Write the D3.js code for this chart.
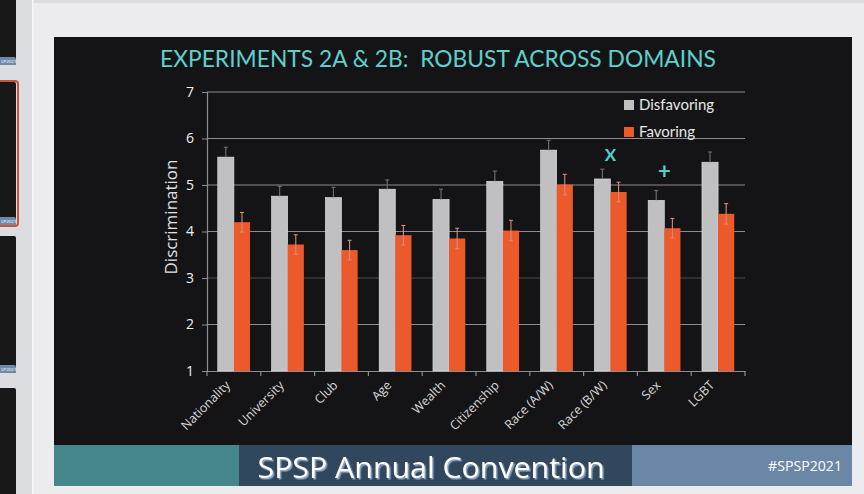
<!DOCTYPE html>
<html><head><meta charset="utf-8">
<script src="https://cdn.jsdelivr.net/npm/d3@7"></script>
<style>html,body{margin:0;padding:0;background:#ececee;overflow:hidden}</style>
</head><body>
<svg id="c" width="864" height="494"></svg>
<script>
const categories = ["Nationality","University","Club","Age","Wealth","Citizenship","Race (A/W)","Race (B/W)","Sex","LGBT"];
const disfavoring = [5.60, 4.76, 4.73, 4.91, 4.69, 5.08, 5.75, 5.13, 4.67, 5.49];
const disfavoringErr = [0.21, 0.21, 0.22, 0.20, 0.22, 0.22, 0.21, 0.21, 0.21, 0.22];
const favoring = [4.20, 3.72, 3.60, 3.92, 3.85, 4.02, 5.01, 4.85, 4.07, 4.38];
const favoringErr = [0.21, 0.21, 0.21, 0.21, 0.22, 0.22, 0.22, 0.21, 0.21, 0.22];
const seriesNames = ["Disfavoring","Favoring"];
const markers = [{cat:"Race (B/W)", sym:"X"},{cat:"Sex", sym:"+"}];
const yTicks = [1,2,3,4,5,6,7];

const svg = d3.select("#c");
const defs = svg.append("defs");
const f = defs.append("filter").attr("id","sh").attr("x","-10%").attr("y","-30%").attr("width","120%").attr("height","160%");
f.append("feDropShadow").attr("dx",1.5).attr("dy",1.5).attr("stdDeviation",0.6).attr("flood-color","#8fa9c6").attr("flood-opacity",1);

// window chrome
svg.append("rect").attr("x",0).attr("y",0).attr("width",864).attr("height",494).attr("fill","#ececee");
svg.append("rect").attr("x",0).attr("y",0).attr("width",864).attr("height",3).attr("fill","#dcdcdf");
svg.append("rect").attr("x",0).attr("y",0).attr("width",32).attr("height",494).attr("fill","#dcdde1");
svg.append("rect").attr("x",32).attr("y",0).attr("width",1.5).attr("height",494).attr("fill","#f7f7f8");
const thumbs = [[-10,65,false],[82,225,true],[236,373,false],[388,520,false]];
thumbs.forEach(t=>{
  const top = t[0], bot = t[1];
  if(t[2]) svg.append("rect").attr("x",-5).attr("y",top-1).attr("width",23).attr("height",bot-top+2).attr("rx",3).attr("fill","none").attr("stroke","#c8553a").attr("stroke-width",2);
  svg.append("rect").attr("x",-5).attr("y",top).attr("width",21).attr("height",bot-top).attr("rx",2).attr("fill","#181818");
  if (bot < 494) {
    svg.append("rect").attr("x",-5).attr("y",bot-8).attr("width",21).attr("height",8).attr("rx",2).attr("fill","#6f8aaa");
    svg.append("text").attr("x",1).attr("y",bot-2.5).attr("font-size",4.5).attr("fill","#e8eef5").attr("font-family","Lato").text("SP2021");
  }
});

// slide
svg.append("rect").attr("x",54).attr("y",37).attr("width",798).attr("height",449).attr("fill","#141416");
svg.append("text").attr("x",438).attr("y",67).attr("text-anchor","middle")
  .attr("font-family","Lato").attr("font-weight",400).attr("font-size",24).attr("fill","#5fd0cc")
  .attr("textLength",556).attr("lengthAdjust","spacingAndGlyphs")
  .text("EXPERIMENTS 2A & 2B:\u00A0 ROBUST ACROSS DOMAINS");

const x0 = d3.scaleBand().domain(categories).range([207,745]).paddingInner(0.4).paddingOuter(0.2);
const x1 = d3.scaleBand().domain(seriesNames).range([0,x0.bandwidth()]);
const y = d3.scaleLinear().domain([1,7]).range([371,92]);
const xb = d3.scaleBand().domain(categories).range([207,745]);

const g = svg.append("g");
g.selectAll(".grid").data(yTicks.slice(1)).join("line")
  .attr("x1",207).attr("x2",745).attr("y1",d=>y(d)).attr("y2",d=>y(d))
  .attr("stroke",d=>d===3?"#4a4a4e":"#8c8c92").attr("stroke-width",1.2);

// y axis
const yAxis = d3.axisLeft(y).tickValues(yTicks).tickFormat(d3.format("d")).tickSize(5).tickPadding(8);
const ya = svg.append("g").attr("transform","translate(207,0)").call(yAxis);
ya.select(".domain").attr("stroke","#8c8c92").attr("stroke-width",1.2);
ya.selectAll(".tick line").attr("stroke","#8c8c92");
ya.selectAll("text").attr("fill","#f0f0f0").attr("font-family","Open Sans").attr("font-size",14);

// x axis
const xAxis = d3.axisBottom(xb).tickSize(0).tickFormat("");
const xa = svg.append("g").attr("transform","translate(0,371)").call(xAxis);
xa.select(".domain").attr("stroke","#8c8c92").attr("stroke-width",1.2);
const bounds = categories.map(c=>xb(c)).concat([745]);
svg.append("g").selectAll("line").data(bounds).join("line")
  .attr("x1",d=>d).attr("x2",d=>d).attr("y1",371).attr("y2",376).attr("stroke","#8c8c92").attr("stroke-width",1.2);
svg.append("g").selectAll("text").data(categories).join("text")
  .attr("transform",d=>`translate(${xb(d)+xb.bandwidth()/2-3},${386}) rotate(-45)`)
  .attr("text-anchor","end").attr("font-family","Open Sans").attr("font-size",12.5).attr("fill","#d8d8d8")
  .text(d=>d);

// y label
svg.append("text").attr("transform","translate(177,217) rotate(-90)").attr("text-anchor","middle")
  .attr("font-family","Open Sans").attr("font-size",17).attr("fill","#e0e0e0").text("Discrimination");

// bars
const colors = {Disfavoring:"#c0bfc2", Favoring:"#ec5a2b"};
const bars = svg.append("g");
categories.forEach((c,i)=>{
  const bx = x0(c);
  const dx = bx + x1("Disfavoring") + x1.bandwidth()/2;
  const fx = bx + x1("Favoring") + x1.bandwidth()/2;
  bars.append("rect").attr("x",bx+x1("Disfavoring")).attr("y",y(disfavoring[i])).attr("width",x1.bandwidth()).attr("height",y(1)-y(disfavoring[i])).attr("fill",colors.Disfavoring)
    .attr("stroke","#e4e4e6").attr("stroke-width",0.6);
  bars.append("rect").attr("x",bx+x1("Favoring")).attr("y",y(favoring[i])).attr("width",x1.bandwidth()).attr("height",y(1)-y(favoring[i])).attr("fill",colors.Favoring);
  const e1 = bars.append("g").attr("stroke","#6a6a6e").attr("stroke-width",1.2);
  e1.append("line").attr("x1",dx).attr("x2",dx).attr("y1",y(disfavoring[i])).attr("y2",y(disfavoring[i]+disfavoringErr[i]));
  e1.append("line").attr("x1",dx-2).attr("x2",dx+2).attr("y1",y(disfavoring[i]+disfavoringErr[i])).attr("y2",y(disfavoring[i]+disfavoringErr[i]));
  const e2 = bars.append("g").attr("stroke","#d98a78").attr("stroke-width",1.1);
  e2.append("line").attr("x1",fx).attr("x2",fx).attr("y1",y(favoring[i]-favoringErr[i])).attr("y2",y(favoring[i]+favoringErr[i]));
  [favoring[i]-favoringErr[i], favoring[i]+favoringErr[i]].forEach(v=>{
    e2.append("line").attr("x1",fx-2).attr("x2",fx+2).attr("y1",y(v)).attr("y2",y(v));
  });
});

// markers
markers.forEach(m=>{
  const i = categories.indexOf(m.cat);
  const cx = xb(m.cat)+xb.bandwidth()/2;
  const top = Math.max(disfavoring[i]+disfavoringErr[i], favoring[i]+favoringErr[i]);
  svg.append("text").attr("x",cx).attr("y",y(top)-(m.sym==="X"?8:12)).attr("text-anchor","middle")
    .attr("font-family","Lato").attr("font-weight","bold").attr("font-size",m.sym==="X"?17:22).attr("fill","#4fd3cc").text(m.sym);
});

// legend
const lg = svg.append("g").attr("transform","translate(624,100)");
seriesNames.forEach((s,i)=>{
  lg.append("rect").attr("x",0).attr("y",i*27).attr("width",10).attr("height",10).attr("fill",colors[s]);
  lg.append("text").attr("x",15).attr("y",i*27+9.5).attr("font-family","Lato").attr("font-size",15).attr("fill","#e8e8e8").text(s);
});

// footer
svg.append("rect").attr("x",54).attr("y",445).attr("width",185).attr("height",41).attr("fill","#44868a");
svg.append("rect").attr("x",239).attr("y",445).attr("width",393).attr("height",41).attr("fill","#30475d");
svg.append("rect").attr("x",632).attr("y",445).attr("width",220).attr("height",41).attr("fill","#6a87a6");
svg.append("text").attr("x",431).attr("y",478).attr("text-anchor","middle").attr("font-family","Open Sans").attr("font-size",29)
  .attr("fill","#ffffff").attr("filter","url(#sh)").attr("textLength",347).attr("lengthAdjust","spacingAndGlyphs").text("SPSP Annual Convention");
svg.append("text").attr("x",842).attr("y",471).attr("text-anchor","end").attr("font-family","Open Sans").attr("font-size",14)
  .attr("fill","#ffffff").attr("textLength",74).attr("lengthAdjust","spacingAndGlyphs").text("#SPSP2021");
</script>
</body></html>
